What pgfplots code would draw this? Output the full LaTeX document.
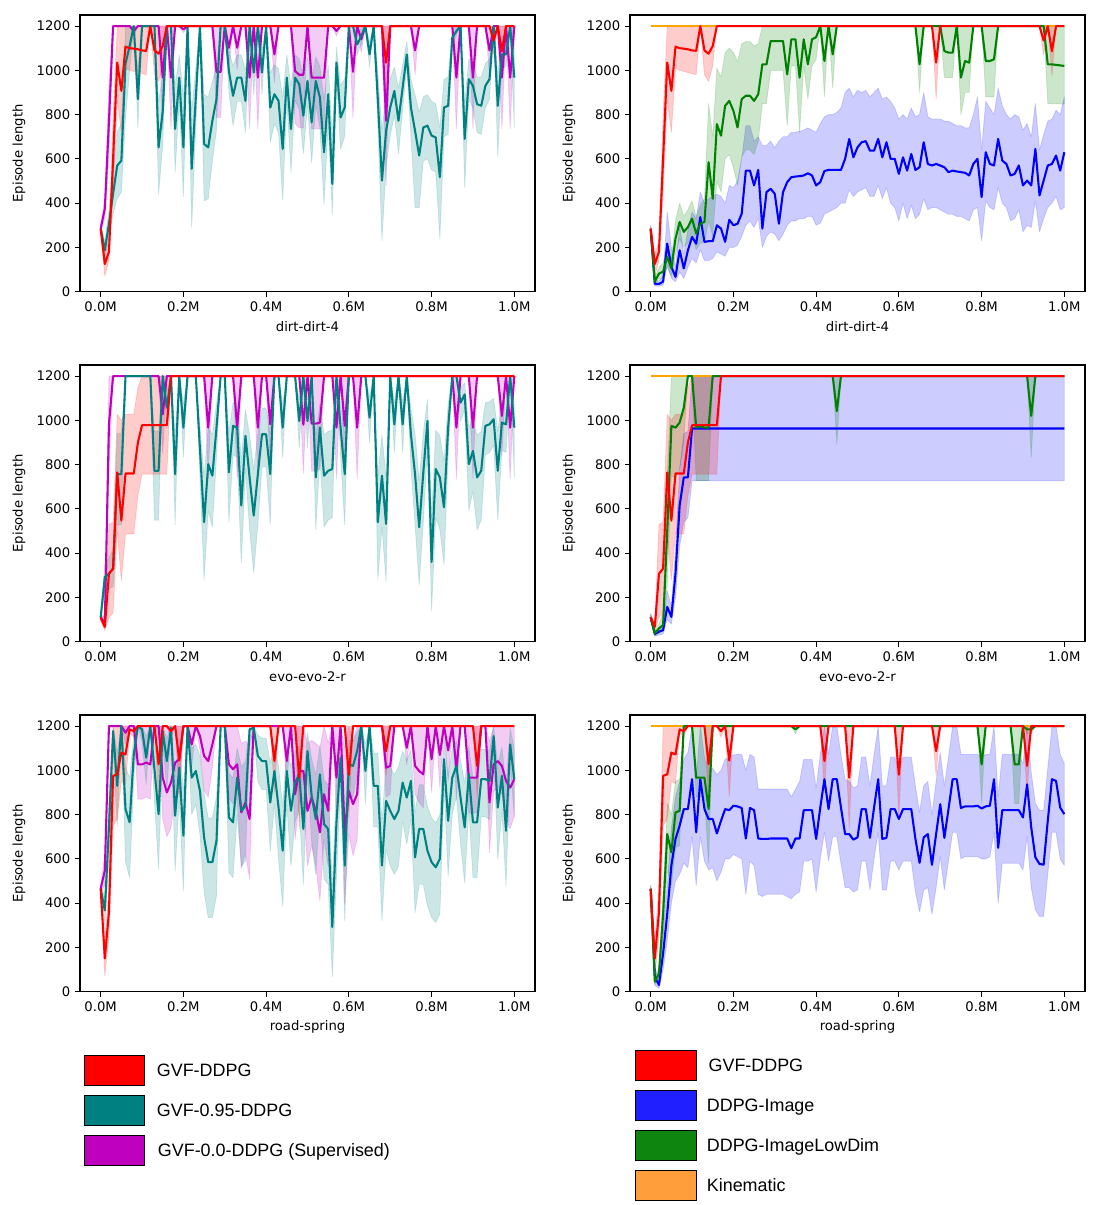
\documentclass[border=0pt]{standalone}
\usepackage{fontspec}
\setmainfont{DejaVu Sans}
\newfontfamily\legfont{Liberation Sans}
\usepackage{pgfplots}
\pgfplotsset{compat=1.18}
\usepackage{pgfplotstable}
\usepgfplotslibrary{fillbetween}
\definecolor{cred}{rgb}{1,0,0}
\definecolor{cteal}{rgb}{0,0.502,0.502}
\definecolor{cmag}{rgb}{0.75,0,0.75}
\definecolor{cblue}{rgb}{0,0,1}
\definecolor{cgreen}{rgb}{0,0.502,0}
\definecolor{corange}{rgb}{1,0.647,0}
\definecolor{lblue}{HTML}{1F1FFF}
\definecolor{lgreen}{HTML}{0E850E}
\definecolor{lorange}{HTML}{FF9E3A}
\definecolor{lmag}{HTML}{BF00BF}
\definecolor{lteal}{HTML}{008080}

% ---------- dirt-dirt-4 ----------
\pgfplotstableread{
x m lo hi
0 285 270 300
0.01 125 70 170
0.02 180 140 230
0.03 600 450 800
0.04 1035 870 1200
0.05 907 720 1200
0.06 1107 1010 1200
0.07 1100 1000 1200
0.08 1098 995 1200
0.09 1095 990 1200
0.10 1090 985 1200
0.11 1088 980 1200
0.12 1200 1200 1200
0.13 1090 980 1200
0.14 1075 950 1200
0.15 1110 1020 1200
0.16 1200 1200 1200
0.68 1200 1200 1200
0.69 1035 870 1200
0.70 1200 1200 1200
0.94 1200 1200 1200
0.95 1135 1070 1200
0.96 1200 1200 1200
0.97 1087 975 1200
0.98 1200 1200 1200
1.00 1200 1200 1200
}\datrA
\pgfplotstableread{
x m lo hi
0 285 270 300
0.01 187 150 230
0.02 307 250 370
0.03 442 350 560
0.04 570 420 720
0.05 592 450 760
0.06 1030 780 1200
0.07 1110 1000 1200
0.08 1200 1200 1200
0.09 870 740 1000
0.10 1200 1200 1200
0.13 1200 1200 1200
0.14 652 440 860
0.15 817 660 980
0.16 1200 1200 1200
0.17 1200 1200 1200
0.18 735 540 930
0.19 967 860 1070
0.20 652 430 880
0.21 1200 1200 1200
0.22 555 290 820
0.24 1200 1200 1200
0.25 667 410 890
0.26 652 420 880
0.27 772 590 950
0.28 870 730 1010
0.29 1200 1200 1200
0.30 1200 1200 1200
0.31 997 900 1090
0.32 885 750 1020
0.33 967 860 1070
0.34 967 860 1070
0.35 862 720 1000
0.36 1200 1200 1200
0.37 990 890 1090
0.38 1200 1200 1200
0.39 990 890 1090
0.40 1200 1200 1200
0.41 832 675 990
0.42 892 760 1025
0.43 862 717 1007
0.44 645 413 877
0.45 967 864 1070
0.46 735 539 931
0.47 967 864 1070
0.48 937 822 1052
0.49 795 623 967
0.50 952 843 1061
0.51 765 581 949
0.52 952 843 1061
0.53 877 738 1016
0.54 630 392 868
0.55 892 759 1025
0.56 487 350 700
0.57 1035 966 1104
0.58 787 643 931
0.59 832 702 962
0.60 1200 1200 1200
0.61 1200 1200 1200
0.62 1117 1072 1162
0.63 1155 1120 1190
0.64 1200 1200 1200
0.65 1072 1014 1130
0.66 1200 1200 1200
0.67 870 751 989
0.68 502 230 731
0.69 727 565 889
0.70 832 702 962
0.71 907 799 1015
0.72 772 624 920
0.73 922 819 1025
0.74 1072 1014 1130
0.75 832 700 960
0.76 727 380 889
0.77 615 380 810
0.78 742 590 880
0.79 750 600 890
0.80 705 550 860
0.81 697 540 850
0.82 517 240 740
0.83 832 700 960
0.84 840 710 970
0.85 1147 1110 1185
0.86 1177 1160 1195
0.87 1200 1200 1200
0.88 690 470 850
0.89 960 870 1050
0.90 930 830 1030
0.91 847 720 970
0.92 840 710 970
0.93 930 830 1030
0.94 960 870 1050
0.95 1200 1200 1200
0.96 840 610 980
0.97 1072 1014 1130
0.98 1072 1014 1130
0.99 1200 1200 1200
1.00 967 740 1200
}\dattA
\pgfplotstableread{
x m lo hi
0 285 270 300
0.01 375 330 420
0.02 770 600 940
0.03 1200 1200 1200
0.07 1200 1200 1200
0.08 1178 1155 1200
0.09 1200 1200 1200
0.14 1200 1200 1200
0.15 967 735 1200
0.16 1200 1200 1200
0.17 967 735 1200
0.18 1200 1200 1200
0.19 1200 1200 1200
0.20 1185 1170 1200
0.21 1200 1200 1200
0.27 1200 1200 1200
0.28 993 786 1200
0.29 993 786 1200
0.30 1200 1200 1200
0.31 1102 1004 1200
0.32 1200 1200 1200
0.33 1102 1004 1200
0.34 1200 1200 1200
0.35 1200 1200 1200
0.36 967 735 1200
0.37 1200 1200 1200
0.38 967 735 1200
0.39 1200 1200 1200
0.41 1200 1200 1200
0.42 1072 944 1200
0.43 1200 1200 1200
0.46 1200 1200 1200
0.47 997 760 1200
0.48 980 740 1200
0.49 980 740 1200
0.50 1200 1200 1200
0.51 967 735 1200
0.52 967 735 1200
0.53 967 735 1200
0.54 967 735 1200
0.55 1200 1200 1200
0.56 1200 1200 1200
0.57 1178 1155 1200
0.58 1200 1200 1200
0.60 1200 1200 1200
0.61 993 786 1200
0.62 1200 1200 1200
0.63 1140 1080 1200
0.64 1200 1200 1200
0.68 1200 1200 1200
0.69 772 480 1200
0.70 1200 1200 1200
0.75 1200 1200 1200
0.76 1090 980 1200
0.77 1200 1200 1200
0.85 1200 1200 1200
0.86 967 735 1200
0.87 1200 1200 1200
0.89 1200 1200 1200
0.90 967 735 1200
0.91 1200 1200 1200
0.93 1200 1200 1200
0.94 1090 980 1200
0.95 1200 1200 1200
0.96 1200 1200 1200
0.97 967 735 1200
0.98 1200 1200 1200
0.99 967 735 1200
1.00 1200 1200 1200
}\datmA
\pgfplotstableread{
x m lo hi
0 280 265 295
0.01 35 25 45
0.02 35 25 50
0.03 45 30 70
0.04 217 120 360
0.05 112 60 200
0.06 67 45 110
0.07 187 90 300
0.08 105 60 170
0.09 187 110 280
0.10 247 150 360
0.11 217 130 330
0.12 337 190 450
0.13 225 140 400
0.14 228 140 420
0.15 228 150 430
0.16 300 180 440
0.17 285 170 430
0.18 225 160 400
0.19 325 200 480
0.20 300 200 470
0.21 307 210 500
0.22 352 250 600
0.23 547 300 750
0.24 547 320 750
0.25 480 290 680
0.26 550 330 700
0.27 285 200 660
0.28 450 250 660
0.29 465 270 680
0.30 442 260 650
0.31 307 230 680
0.32 450 260 700
0.33 495 300 700
0.34 517 320 720
0.35 520 320 720
0.36 522 330 725
0.37 525 330 730
0.38 535 340 740
0.39 525 340 730
0.40 480 300 720
0.41 495 310 760
0.42 545 350 790
0.43 550 360 800
0.44 550 370 800
0.45 550 380 810
0.46 550 400 830
0.47 600 400 900
0.48 690 460 920
0.49 607 430 880
0.50 652 450 910
0.51 675 460 900
0.52 680 470 910
0.53 637 430 880
0.54 637 430 900
0.55 690 480 920
0.56 607 420 870
0.57 675 470 880
0.58 600 400 860
0.59 600 380 830
0.60 532 320 780
0.61 607 400 800
0.62 547 330 780
0.63 622 390 830
0.64 550 330 790
0.65 562 350 800
0.66 675 420 900
0.67 577 370 790
0.68 570 380 780
0.69 577 380 780
0.70 570 370 780
0.71 562 360 770
0.72 540 350 770
0.73 547 350 760
0.74 543 340 750
0.75 540 340 750
0.76 537 330 740
0.77 525 320 740
0.78 577 370 800
0.79 600 380 880
0.80 427 230 640
0.81 630 410 860
0.82 577 380 830
0.83 570 370 800
0.84 690 470 920
0.85 592 400 840
0.86 577 380 800
0.87 525 320 780
0.88 532 330 800
0.89 570 370 790
0.90 480 270 730
0.91 502 300 760
0.92 480 290 700
0.93 645 410 850
0.94 435 270 640
0.95 502 330 710
0.96 570 380 770
0.97 577 400 780
0.98 615 430 820
0.99 547 370 800
1.00 630 380 880
}\datbB
\pgfplotstableread{
x m lo hi
0 285 270 300
0.01 45 30 60
0.02 82 60 110
0.03 90 60 130
0.04 157 110 210
0.05 105 70 150
0.06 240 170 320
0.07 315 240 400
0.08 270 200 340
0.09 292 220 370
0.10 330 250 410
0.11 262 190 340
0.12 307 220 390
0.13 315 220 420
0.14 585 320 850
0.15 420 250 700
0.16 757 500 1010
0.17 705 450 970
0.18 840 600 1080
0.19 862 620 1100
0.20 817 560 1080
0.21 742 480 1040
0.22 870 610 1120
0.23 885 640 1130
0.24 885 640 1130
0.25 862 620 1110
0.26 892 680 1120
0.27 1027 850 1200
0.28 1027 850 1200
0.29 1132 1000 1200
0.30 1132 1000 1200
0.31 1132 1000 1200
0.32 1132 1000 1200
0.33 982 750 1200
0.34 1140 1020 1200
0.35 1140 1020 1200
0.36 967 720 1200
0.37 1140 1020 1200
0.38 1027 870 1200
0.39 1140 1020 1200
0.40 1150 1050 1200
0.41 1200 1200 1200
0.42 1042 880 1200
0.43 1200 1200 1200
0.44 1072 920 1200
0.45 1200 1200 1200
0.64 1200 1200 1200
0.65 1027 900 1200
0.66 1200 1200 1200
0.70 1200 1200 1200
0.71 1087 967 1200
0.72 1080 967 1200
0.73 1080 967 1200
0.74 1200 1200 1200
0.75 967 800 1200
0.76 1042 900 1200
0.77 1035 900 1200
0.78 1200 1200 1200
0.80 1200 1200 1200
0.81 1042 880 1200
0.82 1042 880 1200
0.83 1050 880 1200
0.84 1200 1200 1200
0.95 1200 1200 1200
0.96 1027 850 1200
0.97 1027 850 1200
1.00 1020 847 1200
}\datgB

% ---------- evo-evo-2-r ----------
\pgfplotstableread{
x m lo hi
0 110 95 125
0.01 67 50 85
0.02 307 110 530
0.03 330 130 540
0.04 765 500 1027
0.05 547 277 1000
0.06 760 487 1027
0.07 760 487 1027
0.08 760 487 1027
0.09 900 660 1147
0.10 978 757 1200
0.16 978 757 1200
0.17 1200 1200 1200
1.00 1200 1200 1200
}\datrC
\pgfplotstableread{
x m lo hi
0 110 95 125
0.01 292 230 350
0.02 307 240 380
0.03 330 250 420
0.04 757 528 940
0.05 757 528 940
0.06 1200 1200 1200
0.12 1200 1200 1200
0.13 772 549 950
0.14 772 549 950
0.15 1200 1200 1200
0.16 1057 963 1132
0.17 1200 1200 1200
0.18 757 528 940
0.19 1200 1200 1200
0.20 967 832 1075
0.21 1200 1200 1200
0.23 1200 1200 1200
0.25 540 280 748
0.26 802 593 969
0.27 750 518 935
0.28 967 832 1075
0.29 1200 1200 1200
0.30 1200 1200 1200
0.31 765 539 946
0.32 975 844 1080
0.33 967 832 1075
0.34 615 355 823
0.35 930 779 1051
0.36 742 506 931
0.37 570 310 778
0.38 757 528 940
0.39 937 789 1055
0.40 937 789 1055
0.41 757 528 940
0.42 1200 1200 1200
0.43 1200 1200 1200
0.44 967 832 1075
0.45 1200 1200 1200
0.47 1200 1200 1200
0.48 997 876 1094
0.49 1200 1200 1200
0.50 997 876 1094
0.51 1200 1200 1200
0.52 742 506 931
0.53 967 832 1075
0.54 750 518 935
0.55 772 549 950
0.56 780 561 955
0.57 1200 1200 1200
0.58 967 832 1075
0.59 757 528 940
0.60 1200 1200 1200
0.64 1200 1200 1200
0.65 1012 897 1104
0.66 1200 1200 1200
0.67 540 280 748
0.68 750 518 935
0.69 532 272 740
0.70 1200 1200 1200
0.71 982 854 1084
0.72 1200 1200 1200
0.73 982 854 1084
0.74 1200 1200 1200
0.75 937 789 1055
0.76 757 528 940
0.77 517 257 725
0.78 765 539 946
0.79 997 876 1094
0.80 360 140 568
0.81 780 561 955
0.82 742 506 931
0.83 607 347 815
0.84 967 832 1075
0.85 1200 1200 1200
0.86 1200 1200 1200
0.87 1080 996 1147
0.88 1117 1050 1170
0.89 802 593 969
0.90 862 680 1008
0.91 742 506 931
0.92 772 549 950
0.93 975 844 1080
0.94 982 854 1084
0.95 1005 887 1099
0.96 772 549 950
0.97 990 866 1089
0.98 982 854 1084
0.99 1200 1200 1200
1.00 967 742 1075
}\dattC
\pgfplotstableread{
x m lo hi
0 110 95 125
0.01 82 60 110
0.02 982 760 1200
0.03 1200 1200 1200
0.14 1200 1200 1200
0.15 1027 850 1200
0.16 1200 1200 1200
0.25 1200 1200 1200
0.26 967 735 1200
0.27 1200 1200 1200
0.32 1200 1200 1200
0.33 967 735 1200
0.34 1200 1200 1200
0.37 1200 1200 1200
0.38 967 735 1200
0.39 1200 1200 1200
0.40 1200 1200 1200
0.41 982 760 1200
0.42 1200 1200 1200
0.48 1200 1200 1200
0.49 980 760 1200
0.50 1200 1200 1200
0.51 985 770 1200
0.52 985 770 1200
0.53 990 780 1200
0.54 1200 1200 1200
0.56 1200 1200 1200
0.57 967 735 1200
0.58 1200 1200 1200
0.59 975 750 1200
0.60 1200 1200 1200
0.61 1200 1200 1200
0.62 967 735 1200
0.63 1200 1200 1200
0.85 1200 1200 1200
0.86 967 735 1200
0.87 1200 1200 1200
0.89 1200 1200 1200
0.90 967 735 1200
0.91 1200 1200 1200
0.96 1200 1200 1200
0.97 1020 840 1200
0.98 1200 1200 1200
0.99 967 735 1200
1.00 1200 1200 1200
}\datmC
\pgfplotstableread{
x m lo hi
0 110 95 125
0.01 35 25 45
0.02 45 30 60
0.03 52 35 75
0.04 157 100 230
0.05 112 80 160
0.06 307 200 420
0.07 615 430 780
0.08 742 540 940
0.09 742 560 950
0.10 963 727 1200
1.00 963 727 1200
}\datbD
\pgfplotstableread{
x m lo hi
0 110 95 125
0.01 37 25 50
0.02 60 40 80
0.03 75 50 130
0.04 500 250 750
0.05 975 750 1200
0.06 967 740 1200
0.07 990 780 1200
0.08 1057 900 1200
0.09 1200 1200 1200
0.10 1200 1200 1200
0.11 967 727 1200
0.12 975 727 1200
0.13 967 727 1200
0.14 967 727 1200
0.15 1200 1200 1200
0.44 1200 1200 1200
0.45 1042 892 1200
0.46 1200 1200 1200
0.91 1200 1200 1200
0.92 1020 832 1200
0.93 1200 1200 1200
1.00 1200 1200 1200
}\datgD

% ---------- road-spring ----------
\pgfplotstableread{
x m lo hi
0 465 450 480
0.01 150 70 230
0.02 360 250 470
0.03 975 750 1200
0.04 982 780 1200
0.05 1080 950 1200
0.06 1072 940 1200
0.07 1185 1170 1200
0.08 1177 1150 1200
0.09 1200 1200 1200
0.13 1200 1200 1200
0.14 1027 850 1200
0.15 1200 1200 1200
0.16 1200 1200 1200
0.17 1177 1150 1200
0.18 1200 1200 1200
0.19 1045 880 1200
0.20 1200 1200 1200
0.41 1200 1200 1200
0.42 1042 900 1200
0.43 1200 1200 1200
0.47 1200 1200 1200
0.48 967 735 1200
0.49 1200 1200 1200
0.59 1200 1200 1200
0.60 980 790 1200
0.61 1200 1200 1200
0.68 1200 1200 1200
0.69 1087 975 1200
0.70 1200 1200 1200
0.90 1200 1200 1200
0.91 1020 880 1200
0.92 1200 1200 1200
1.00 1200 1200 1200
}\datrE
\pgfplotstableread{
x m lo hi
0 465 450 480
0.01 367 300 430
0.02 742 600 880
0.03 1177 1116 1200
0.04 930 745 1078
0.05 1200 1200 1200
0.06 825 588 1015
0.07 765 515 965
0.08 1072 958 1163
0.09 1200 1200 1200
0.10 1185 1128 1200
0.11 1057 936 1154
0.12 1200 1200 1200
0.13 1005 858 1123
0.14 802 553 1001
0.15 1177 1116 1200
0.16 1042 913 1145
0.17 1192 1180 1200
0.18 795 545 995
0.19 1012 868 1127
0.20 705 455 905
0.21 1200 1200 1200
0.22 967 801 1100
0.23 997 846 1118
0.24 907 711 1064
0.25 697 447 897
0.26 585 335 785
0.27 585 335 785
0.28 682 432 882
0.29 1200 1200 1200
0.30 1200 1200 1200
0.31 787 537 987
0.32 765 515 965
0.33 967 801 1100
0.34 817 567 1017
0.35 840 590 1040
0.36 1185 1128 1200
0.37 1192 1180 1200
0.38 1065 948 1159
0.39 1042 913 1145
0.40 1042 913 1145
0.41 855 633 1033
0.42 997 846 1118
0.43 832 598 1019
0.44 637 387 837
0.45 997 846 1118
0.46 817 567 1017
0.47 945 768 1087
0.48 982 823 1109
0.49 735 485 935
0.50 1087 981 1172
0.51 885 678 1051
0.52 780 530 980
0.53 982 823 1109
0.54 757 507 957
0.55 735 485 935
0.56 292 67 472
0.57 765 515 965
0.58 1057 936 1154
0.59 570 320 770
0.60 1027 891 1136
0.61 1020 880 1132
0.62 1087 981 1172
0.63 1200 1200 1200
0.64 997 846 1118
0.65 1200 1200 1200
0.66 930 745 1078
0.67 930 745 1078
0.68 570 320 770
0.69 862 643 1037
0.70 817 567 1017
0.71 780 530 980
0.72 817 567 1017
0.73 945 768 1087
0.74 877 666 1046
0.75 952 778 1091
0.76 607 357 807
0.77 735 485 935
0.78 735 485 935
0.79 637 387 837
0.80 585 335 785
0.81 562 312 762
0.82 600 350 800
0.83 1050 925 1150
0.84 772 522 972
0.85 967 801 1100
0.86 1020 880 1132
0.87 877 666 1046
0.88 742 492 942
0.89 982 823 1109
0.90 765 515 965
0.91 765 515 965
0.92 960 790 1096
0.93 960 790 1096
0.94 952 778 1091
0.95 1155 1083 1200
0.96 832 598 1019
0.97 975 813 1105
0.98 727 477 927
0.99 1117 1026 1190
1.00 960 790 1096
}\dattE
\pgfplotstableread{
x m lo hi
0 465 450 480
0.01 547 480 620
0.02 1200 1200 1200
0.05 1200 1200 1200
0.06 1170 1120 1200
0.07 1200 1200 1200
0.08 1200 1200 1200
0.09 1027 870 1200
0.10 1027 870 1200
0.11 1035 880 1200
0.12 1027 870 1200
0.13 1200 1200 1200
0.14 1200 1200 1200
0.15 967 780 1200
0.16 900 700 1200
0.17 945 740 1200
0.18 1035 880 1200
0.19 1050 900 1200
0.20 1200 1200 1200
0.21 1200 1200 1200
0.22 1117 1014 1200
0.23 1200 1200 1200
0.24 1155 1090 1200
0.25 1065 910 1200
0.26 1042 880 1200
0.27 1117 1014 1200
0.28 1200 1200 1200
0.30 1200 1200 1200
0.31 1027 870 1200
0.32 1005 850 1200
0.33 1027 870 1200
0.34 810 556 1122
0.35 855 628 1131
0.36 780 508 1116
0.37 1200 1200 1200
0.44 1200 1200 1200
0.45 1042 927 1200
0.46 1200 1200 1200
0.47 892 687 1200
0.48 997 855 1200
0.49 997 855 1200
0.50 817 567 1123
0.51 877 663 1135
0.52 817 567 1123
0.53 720 412 1104
0.54 892 687 1200
0.55 817 567 1123
0.56 1200 1200 1200
0.57 967 807 1200
0.58 1200 1200 1200
0.59 712 399 1102
0.60 907 711 1200
0.61 847 615 1129
0.62 892 687 1200
0.63 1200 1200 1200
0.68 1200 1200 1200
0.69 1012 879 1200
0.70 1020 892 1200
0.71 1200 1200 1200
0.73 1200 1200 1200
0.74 1102 1023 1200
0.75 1200 1200 1200
0.76 1020 892 1200
0.77 997 855 1200
0.78 982 831 1200
0.79 1200 1200 1200
0.80 1050 900 1200
0.81 1200 1200 1200
0.82 1070 920 1200
0.83 1200 1200 1200
0.84 1090 950 1200
0.85 1200 1200 1200
0.86 1005 868 1200
0.87 1200 1200 1200
0.88 1200 1200 1200
0.89 967 807 1200
0.90 967 807 1200
0.91 967 807 1200
0.92 1200 1200 1200
0.93 1200 1200 1200
0.94 855 628 1131
0.95 1027 903 1200
0.96 1042 927 1200
0.97 1020 892 1200
0.98 952 783 1200
0.99 922 735 1200
1.00 960 796 1200
}\datmE
\pgfplotstableread{
x m lo hi
0 465 450 480
0.01 67 30 110
0.02 30 15 60
0.03 172 100 260
0.04 352 230 480
0.05 570 400 740
0.06 690 500 880
0.07 750 530 950
0.08 825 580 1050
0.09 825 560 1080
0.10 960 700 1200
0.11 720 480 960
0.12 960 700 1200
0.13 825 590 1060
0.14 780 550 1010
0.15 780 560 1010
0.16 715 500 980
0.17 772 540 1000
0.18 825 600 1050
0.19 820 600 1060
0.20 840 620 1070
0.21 837 610 1072
0.22 830 600 1072
0.23 692 440 1000
0.24 830 590 1072
0.25 820 570 1060
0.26 692 440 915
0.27 690 430 915
0.28 690 440 915
0.29 692 440 915
0.30 692 440 915
0.31 692 440 915
0.32 692 440 915
0.33 692 430 915
0.34 648 420 880
0.35 692 440 915
0.36 692 450 950
0.37 820 590 1050
0.38 820 590 1050
0.39 820 600 1050
0.40 690 450 920
0.41 832 600 1072
0.42 960 720 1200
0.43 825 590 1072
0.44 960 700 1200
0.45 960 700 1200
0.46 832 580 1072
0.47 712 470 960
0.48 712 470 950
0.49 687 450 920
0.50 697 460 930
0.51 825 590 1060
0.52 825 590 1060
0.53 695 460 930
0.54 832 600 1070
0.55 960 720 1200
0.56 690 460 930
0.57 695 460 930
0.58 825 590 1060
0.59 825 590 1060
0.60 780 550 1010
0.61 825 590 1060
0.62 825 590 1060
0.63 825 590 1060
0.64 690 450 930
0.65 582 360 810
0.66 697 460 930
0.67 712 470 950
0.68 573 350 800
0.69 712 470 950
0.70 847 610 1080
0.71 695 460 930
0.72 825 590 1060
0.73 960 720 1200
0.74 960 720 1200
0.75 830 600 1072
0.76 837 610 1072
0.77 837 610 1072
0.78 837 610 1072
0.79 840 610 1072
0.80 828 600 1060
0.81 837 600 1072
0.82 840 610 1072
0.83 960 720 1200
0.84 650 400 880
0.85 820 580 1072
0.86 820 580 1072
0.87 820 580 1072
0.88 820 580 1072
0.89 820 580 1072
0.90 787 550 1030
0.91 937 700 1200
0.92 742 470 990
0.93 607 370 850
0.94 577 340 820
0.95 574 340 820
0.96 772 530 1010
0.97 960 720 1200
0.98 952 720 1200
0.99 832 600 1072
1.00 802 570 1030
}\datbF
\pgfplotstableread{
x m lo hi
0 465 450 480
0.01 45 30 60
0.02 82 60 110
0.03 350 250 450
0.04 712 550 850
0.05 630 480 800
0.06 810 650 950
0.07 817 660 960
0.08 1200 1200 1200
0.10 1200 1200 1200
0.11 967 880 1200
0.12 967 880 1200
0.13 967 880 1200
0.14 825 580 1200
0.15 1200 1200 1200
0.34 1200 1200 1200
0.35 1185 1165 1200
0.36 1200 1200 1200
0.79 1200 1200 1200
0.80 1027 850 1200
0.81 1200 1200 1200
0.87 1200 1200 1200
0.88 1027 850 1200
0.89 1027 850 1200
0.90 1200 1200 1200
0.91 1185 1165 1200
0.92 1185 1165 1200
0.93 1200 1200 1200
1.00 1200 1200 1200
}\datgF

\pgfplotsset{
  /pgf/number format/1000 sep={},
  panel/.style={
    scale only axis, width=327.6bp, height=199.2bp, anchor=south west,
    xmin=-0.05, xmax=1.05, ymin=0, ymax=1250,
    xtick={0,0.2,0.4,0.6,0.8,1.0},
    xticklabels={0.0M,0.2M,0.4M,0.6M,0.8M,1.0M},
    ytick={0,200,400,600,800,1000,1200},
    tick align=outside, tick pos=left, major tick length=3.5bp,
    every tick/.style={black, line width=0.8bp},
    axis line style={line width=0.8bp},
    ticklabel style={font=\fontsize{9.5bp}{11bp}\selectfont},
    label style={font=\fontsize{9.5bp}{11bp}\selectfont},
    /pgf/number format/assume math mode=true,
    ylabel={Episode length},
    ylabel style={at={(axis description cs:-0.134,0.5)}, anchor=center},
    xlabel style={at={(axis description cs:0.5,-0.1265)}, anchor=center},
  }
}
\newcommand{\band}[3]{%
  \addplot[draw=none, forget plot, name path=#3lo] table[x=x,y=lo]{#1};
  \addplot[draw=none, forget plot, name path=#3hi] table[x=x,y=hi]{#1};
  \addplot[fill=#2, fill opacity=0.2, draw=#2, draw opacity=0.15, line width=0.6bp, line join=round, forget plot] fill between[of=#3lo and #3hi];
}
\newcommand{\mline}[2]{\addplot[#2, line width=1.5bp, line join=round, forget plot] table[x=x,y=m]{#1};}

\begin{document}
\begin{tikzpicture}

% ---- row 1 ----
\begin{axis}[panel, at={(57.6bp,-210bp)}, xlabel={dirt-dirt-4}]
\band{\datmA}{cmag}{m}
\band{\dattA}{cteal}{t}
\band{\datrA}{cred}{r}
\mline{\datmA}{cmag}
\mline{\dattA}{cteal}
\mline{\datrA}{cred}
\end{axis}
\begin{axis}[panel, at={(453.6bp,-210bp)}, xlabel={dirt-dirt-4}]
\band{\datbB}{cblue}{b}
\band{\datgB}{cgreen}{g}
\band{\datrA}{cred}{r}
\addplot[corange, line width=1.5bp, forget plot] coordinates {(0,1200) (1,1200)};
\mline{\datbB}{cblue}
\mline{\datgB}{cgreen}
\mline{\datrA}{cred}
\end{axis}

% ---- row 2 ----
\begin{axis}[panel, at={(57.6bp,-462bp)}, xlabel={evo-evo-2-r}]
\band{\datmC}{cmag}{m}
\band{\dattC}{cteal}{t}
\band{\datrC}{cred}{r}
\mline{\datmC}{cmag}
\mline{\dattC}{cteal}
\mline{\datrC}{cred}
\end{axis}
\begin{axis}[panel, at={(453.6bp,-462bp)}, xlabel={evo-evo-2-r}]
\band{\datbD}{cblue}{b}
\band{\datgD}{cgreen}{g}
\band{\datrC}{cred}{r}
\addplot[corange, line width=1.5bp, forget plot] coordinates {(0,1200) (1,1200)};
\mline{\datbD}{cblue}
\mline{\datgD}{cgreen}
\mline{\datrC}{cred}
\end{axis}

% ---- row 3 ----
\begin{axis}[panel, at={(57.6bp,-714bp)}, xlabel={road-spring}]
\band{\datmE}{cmag}{m}
\band{\dattE}{cteal}{t}
\band{\datrE}{cred}{r}
\mline{\datmE}{cmag}
\mline{\dattE}{cteal}
\mline{\datrE}{cred}
\end{axis}
\begin{axis}[panel, at={(453.6bp,-714bp)}, xlabel={road-spring}]
\band{\datbF}{cblue}{b}
\band{\datgF}{cgreen}{g}
\band{\datrE}{cred}{r}
\addplot[corange, line width=1.5bp, forget plot] coordinates {(0,1200) (1,1200)};
\mline{\datbF}{cblue}
\mline{\datgF}{cgreen}
\mline{\datrE}{cred}
\end{axis}

% ---- legends ----
\begin{scope}[every node/.style={font=\legfont\fontsize{12.9bp}{15bp}\selectfont, anchor=base west, inner sep=0pt}]
\draw[fill=cred, line width=0.72bp] (60.55bp,-759.8bp) rectangle (103.9bp,-781.7bp);
\draw[fill=lteal, line width=0.72bp] (60.55bp,-788.6bp) rectangle (103.9bp,-810.5bp);
\draw[fill=lmag, line width=0.72bp] (60.55bp,-817.4bp) rectangle (103.9bp,-839.3bp);
\node at (112.75bp,-775.4bp) {GVF-DDPG};
\node at (112.75bp,-804.2bp) {GVF-0.95-DDPG};
\node at (113.5bp,-833.0bp) {GVF-0.0-DDPG (Supervised)};

\draw[fill=cred, line width=0.72bp] (457.8bp,-756.2bp) rectangle (501.2bp,-777.8bp);
\draw[fill=lblue, line width=0.72bp] (457.8bp,-785.0bp) rectangle (501.2bp,-806.6bp);
\draw[fill=lgreen, line width=0.72bp] (457.8bp,-813.8bp) rectangle (501.2bp,-835.4bp);
\draw[fill=lorange, line width=0.72bp] (457.8bp,-842.6bp) rectangle (501.2bp,-864.2bp);
\node at (510.0bp,-771.6bp) {GVF-DDPG};
\node at (508.75bp,-800.4bp) {DDPG-Image};
\node at (508.75bp,-829.2bp) {DDPG-ImageLowDim};
\node at (508.75bp,-858.0bp) {Kinematic};
\end{scope}
\path (0,0) rectangle (792bp,-867.6bp);
\end{tikzpicture}
\end{document}
